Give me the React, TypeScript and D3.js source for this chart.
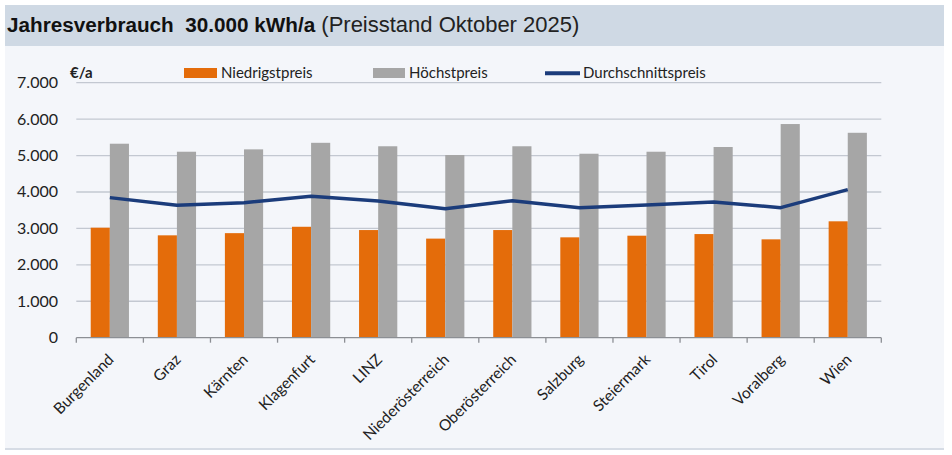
import React from "react";
import * as d3 from "d3";

const regions = [
  "Burgenland",
  "Graz",
  "Kärnten",
  "Klagenfurt",
  "LINZ",
  "Niederösterreich",
  "Oberösterreich",
  "Salzburg",
  "Steiermark",
  "Tirol",
  "Voralberg",
  "Wien",
];

const niedrigstpreis = [3020, 2810, 2870, 3045, 2955, 2720, 2955, 2755, 2800, 2845, 2700, 3195];
const hoechstpreis = [5325, 5105, 5170, 5350, 5255, 5015, 5255, 5050, 5105, 5235, 5865, 5625];
const durchschnittspreis = [3845, 3635, 3705, 3880, 3750, 3540, 3760, 3570, 3645, 3725, 3570, 4065];

const yTicks = [0, 1000, 2000, 3000, 4000, 5000, 6000, 7000];

const W = 952;
const H = 455;
const ORANGE = "#e46c0a";
const GREY = "#a6a6a6";
const NAVY = "#1b3c7b";
const FONT = "Lato, 'Open Sans', sans-serif";

const fmt = (v: number) => d3.format(",")(v).replace(/,/g, ".");

export default function App() {
  const x = d3.scaleBand<string>().domain(regions).range([76.3, 881.3]).padding(0);
  const y = d3.scaleLinear().domain([0, 7000]).range([337.7, 82.7]);
  const bw = x.bandwidth() * 0.285;
  const cx = (r: string) => (x(r) as number) + x.bandwidth() / 2;

  const line = d3
    .line<number>()
    .x((_, i) => cx(regions[i]))
    .y((d) => y(d));

  const edges = regions.map((r) => x(r) as number).concat([x.range()[1]]);

  return (
    <svg
      width={W}
      height={H}
      style={{ position: "absolute", left: 0, top: 0, background: "#ffffff" }}
      fontFamily={FONT}
    >
      {/* panel */}
      <rect x={5} y={46} width={939} height={403} fill="#f4f6fa" />
      <line x1={5} x2={944} y1={449} y2={449} stroke="#d6dce5" strokeWidth={2} />
      {/* title band */}
      <rect x={5} y={5} width={939} height={41} fill="#cfd9e4" />
      <text
        x={7}
        y={32}
        fontFamily="'Liberation Sans', Arial, sans-serif"
        style={{ whiteSpace: "pre" }}
      >
        <tspan fontWeight="bold" fontSize={20.7} fill="#111">
          {"Jahresverbrauch  30.000 kWh/a"}
        </tspan>
        <tspan fontSize={22} fill="#222">
          {" (Preisstand Oktober 2025)"}
        </tspan>
      </text>

      {/* gridlines */}
      {yTicks
        .filter((t) => t > 0)
        .map((t) => (
          <line
            key={t}
            x1={x.range()[0]}
            x2={x.range()[1]}
            y1={y(t)}
            y2={y(t)}
            stroke="#c3c8d1"
            strokeWidth={1.3}
          />
        ))}

      {/* y tick labels */}
      {yTicks.map((t) => (
        <text
          key={t}
          x={58}
          y={y(t) + 5.5}
          textAnchor="end"
          fontSize={16}
          fill="#222"
        >
          {fmt(t)}
        </text>
      ))}
      <text x={70} y={78} fontSize={15} fontWeight="bold" fill="#222">
        €/a
      </text>

      {/* bars */}
      {regions.map((r, i) => (
        <g key={r}>
          <rect
            x={cx(r) - bw}
            y={y(niedrigstpreis[i])}
            width={bw}
            height={y(0) - y(niedrigstpreis[i])}
            fill={ORANGE}
          />
          <rect
            x={cx(r)}
            y={y(hoechstpreis[i])}
            width={bw}
            height={y(0) - y(hoechstpreis[i])}
            fill={GREY}
          />
        </g>
      ))}

      {/* x axis */}
      <line
        x1={x.range()[0]}
        x2={x.range()[1]}
        y1={y(0)}
        y2={y(0)}
        stroke="#8c8f94"
        strokeWidth={1.3}
      />
      {edges.map((e, i) => (
        <line key={i} x1={e} x2={e} y1={y(0)} y2={y(0) + 5} stroke="#8c8f94" strokeWidth={1.3} />
      ))}
      {regions.map((r) => (
        <text
          key={r}
          transform={`translate(${cx(r) + 1},${y(0) + 19}) rotate(-45)`}
          textAnchor="end"
          dy="0.35em"
          fontSize={15.5}
          fill="#222"
        >
          {r}
        </text>
      ))}

      {/* average line */}
      <path
        d={line(durchschnittspreis) as string}
        fill="none"
        stroke={NAVY}
        strokeWidth={3.5}
        strokeLinejoin="round"
      />

      {/* legend */}
      <rect x={184} y={68} width={33} height={10} fill={ORANGE} />
      <text x={221} y={78} fontSize={15} fill="#222">
        Niedrigstpreis
      </text>
      <rect x={373} y={68} width={32} height={10} fill={GREY} />
      <text x={409} y={78} fontSize={15} fill="#222">
        Höchstpreis
      </text>
      <line x1={545} x2={580} y1={73.3} y2={73.3} stroke={NAVY} strokeWidth={4} />
      <text x={583} y={78} fontSize={15} fill="#222">
        Durchschnittspreis
      </text>
    </svg>
  );
}
